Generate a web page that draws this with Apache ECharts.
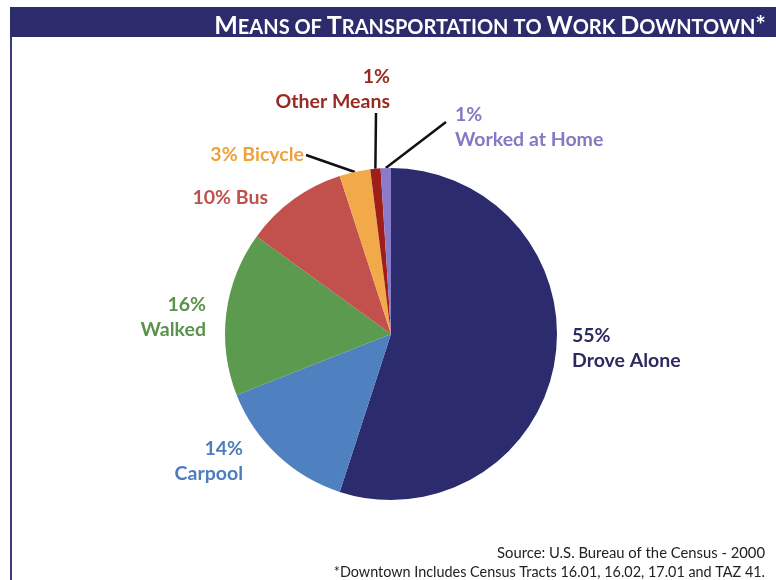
<!DOCTYPE html>
<html>
<head>
<meta charset="utf-8">
<script src="https://cdn.jsdelivr.net/npm/echarts@6/dist/echarts.min.js"></script>
<style>
html,body{margin:0;padding:0;background:#fff;}
#chart{width:776px;height:580px;}
</style>
</head>
<body>
<div id="chart"></div>
<script>
// ---- data ----
const categories = ['Drove Alone', 'Carpool', 'Walked', 'Bus', 'Bicycle', 'Other Means', 'Worked at Home'];
const values = [55, 14, 16, 10, 3, 1, 1];
const titleText = 'Means of Transportation to Work Downtown*';
const sourceLine = 'Source: U.S. Bureau of the Census - 2000';
const noteLine = '*Downtown Includes Census Tracts 16.01, 16.02, 17.01 and TAZ 41.';

// ---- styles ----
const sliceColors = ['#2c2b6e', '#4f80c0', '#5b9a4f', '#c2504d', '#f2a94a', '#9e1f1a', '#8a7cc8'];
const labelColors = ['#2c2b60', '#4d7dbd', '#5a924e', '#c0504d', '#eea23a', '#982a22', '#8678c2'];
const twoLine = [true, true, true, false, false, true, true];
const labelSpots = [
  {x: 572, y: 348, align: 'left'},
  {x: 243, y: 461, align: 'right'},
  {x: 206, y: 317, align: 'right'},
  {x: 268, y: 198, align: 'right'},
  {x: 304, y: 155, align: 'right', end: [306, 155]},
  {x: 390, y: 89, align: 'right', end: [376, 113]},
  {x: 455, y: 127, align: 'left', end: [446, 122]}
];

// small caps title built as rich text
function smallCaps(str) {
  let out = '';
  const words = str.split(' ');
  words.forEach((w, i) => {
    const first = w[0];
    const rest = w.slice(1).toUpperCase();
    const isCap = first === first.toUpperCase() && /[A-Za-z]/.test(first);
    if (isCap) out += '{b|' + first + '}';
    else out += '{s|' + first.toUpperCase() + '}';
    const m = rest.match(/^([A-Z]*)(\*?)$/);
    if (m) {
      if (m[1]) out += '{s|' + m[1] + '}';
      if (m[2]) out += '{b|' + m[2] + '}';
    } else if (rest) out += '{s|' + rest + '}';
    if (i < words.length - 1) out += '{s| }';
  });
  return out;
}

const chart = echarts.init(document.getElementById('chart'), null, {renderer: 'canvas'});
const FONT = 'Lato, "Open Sans", sans-serif';

const data = categories.map((name, i) => ({
  name: name,
  value: values[i],
  itemStyle: {color: sliceColors[i]},
  label: {
    color: labelColors[i],
    formatter: twoLine[i] ? '{c}%\n{b}' : '{c}% {b}'
  },
  labelLine: {show: !!labelSpots[i].end}
}));

chart.setOption({
  animation: false,
  backgroundColor: '#ffffff',
  graphic: [
    {type: 'rect', shape: {x: 10, y: 7, width: 766, height: 30}, style: {fill: '#2c2b6c'}, z: 0},
    {type: 'rect', shape: {x: 10, y: 37, width: 2, height: 543}, style: {fill: '#3b3a7c'}, z: 0}
  ],
  title: [
    {
      text: smallCaps(titleText),
      right: 5, top: 7,
      textStyle: {
        rich: {
          b: {fontFamily: FONT, fontWeight: 'bold', fontSize: 25, color: '#ffffff', lineHeight: 26, verticalAlign: 'bottom'},
          s: {fontFamily: FONT, fontWeight: 'bold', fontSize: 20, color: '#ffffff', lineHeight: 26, verticalAlign: 'bottom'}
        }
      },
      z: 5
    },
    {
      text: sourceLine, right: 6, top: 541,
      textStyle: {fontFamily: FONT, fontWeight: 'normal', fontSize: 14.8, color: '#222222'}
    },
    {
      text: noteLine, right: 6, top: 560,
      textStyle: {fontFamily: FONT, fontWeight: 'normal', fontSize: 14.4, color: '#222222'}
    }
  ],
  series: [{
    type: 'pie',
    center: [391, 334],
    radius: 166,
    startAngle: 90,
    clockwise: true,
    avoidLabelOverlap: false,
    data: data,
    itemStyle: {borderWidth: 0},
    label: {
      show: true,
      position: 'outside',
      fontFamily: FONT,
      fontWeight: 'bold',
      fontSize: 19.5,
      lineHeight: 25
    },
    labelLine: {
      length: 10, length2: 10,
      lineStyle: {color: '#111111', width: 2.5}
    },
    emphasis: {disabled: true},
    labelLayout: function (p) {
      const s = labelSpots[p.dataIndex];
      const r = {x: s.x, y: s.y, align: s.align, verticalAlign: 'middle', hideOverlap: false};
      if (s.end && p.labelLinePoints) {
        const st = p.labelLinePoints[0];
        r.labelLinePoints = [[st[0], st[1]], s.end, s.end];
      }
      return r;
    }
  }]
});
</script>
</body>
</html>
